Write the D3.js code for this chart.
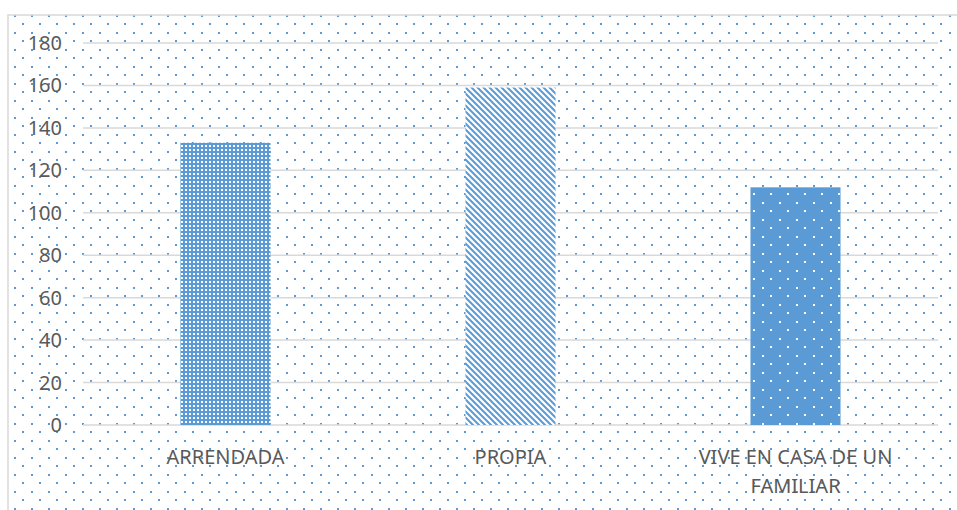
<!DOCTYPE html>
<html>
<head>
<meta charset="utf-8">
<script src="https://cdn.jsdelivr.net/npm/d3@7"></script>
<style>
  body { margin: 0; background: #fff; }
  text { font-family: "Noto Sans", "Open Sans", sans-serif; fill: #595959; }
</style>
</head>
<body>
<div id="chart"></div>
<script>
const WIDTH = 957;
const HEIGHT = 510;
const PLOT = { TOP: 43, RIGHT: 938, BOTTOM: 425, LEFT: 83 };
const BLUE = "#5b9bd5";

// data
var categories = ["ARRENDADA", "PROPIA", "VIVE EN CASA DE UN FAMILIAR"];
var values = [133, 159, 112];
var yTicks = [0, 20, 40, 60, 80, 100, 120, 140, 160, 180];
var fills = ["url(#grid)", "url(#diag)", "url(#dots-inv)"];

var svg = d3.select("div#chart").append("svg")
    .attr("width", WIDTH)
    .attr("height", HEIGHT);

var defs = svg.append("defs");

// background dotted pattern (34px tile so every dot sits on whole pixels)
var dotSpots = [[0, 0], [17, 0], [0, 17], [17, 17], [8, 8], [25, 8], [8, 25], [25, 25]];

var bg = defs.append("pattern")
    .attr("id", "bgdots")
    .attr("patternUnits", "userSpaceOnUse")
    .attr("x", 14).attr("y", 15)
    .attr("width", 34).attr("height", 34);
bg.selectAll("rect").data(dotSpots).join("rect")
    .attr("x", d => d[0]).attr("y", d => d[1])
    .attr("width", 2).attr("height", 2)
    .attr("fill", BLUE);

// arrendada: small white squares on blue
var grid = defs.append("pattern")
    .attr("id", "grid")
    .attr("patternUnits", "userSpaceOnUse")
    .attr("width", 4).attr("height", 4);
grid.append("rect").attr("width", 4).attr("height", 4).attr("fill", BLUE);
grid.append("rect").attr("x", 1).attr("y", 1).attr("width", 2).attr("height", 2).attr("fill", "#fff");

// propia: downward diagonal lines
var diag = defs.append("pattern")
    .attr("id", "diag")
    .attr("patternUnits", "userSpaceOnUse")
    .attr("width", 6).attr("height", 6);
diag.append("rect").attr("width", 6).attr("height", 6).attr("fill", "#fff");
diag.append("path")
    .attr("d", "M-1,-1 L7,7 M-4,2 L4,10 M2,-4 L10,4")
    .attr("stroke", BLUE)
    .attr("stroke-width", 2);

// vive en casa: white dots on blue
var inv = defs.append("pattern")
    .attr("id", "dots-inv")
    .attr("patternUnits", "userSpaceOnUse")
    .attr("x", 14).attr("y", 15)
    .attr("width", 34).attr("height", 34);
inv.append("rect").attr("width", 34).attr("height", 34).attr("fill", BLUE);
inv.selectAll("rect.d").data(dotSpots).join("rect")
    .attr("class", "d")
    .attr("x", d => d[0]).attr("y", d => d[1])
    .attr("width", 2).attr("height", 2)
    .attr("fill", "#fff");

// chart area
svg.append("rect")
    .attr("x", 0).attr("y", 0)
    .attr("width", WIDTH).attr("height", HEIGHT)
    .attr("fill", "#fff");
svg.append("rect")
    .attr("x", 8).attr("y", 15)
    .attr("width", WIDTH).attr("height", HEIGHT)
    .attr("fill", "url(#bgdots)")
    .attr("stroke", "#d9d9d9")
    .attr("stroke-width", 1.5);

var x = d3.scaleBand(categories, [PLOT.LEFT, PLOT.RIGHT])
    .paddingInner(0.684)
    .paddingOuter(0.342);
var y = d3.scaleLinear([0, 180], [PLOT.BOTTOM, PLOT.TOP]);

// gridlines
svg.append("g")
    .selectAll("line")
    .data(yTicks)
    .join("line")
    .attr("x1", PLOT.LEFT).attr("x2", PLOT.RIGHT)
    .attr("y1", d => y(d)).attr("y2", d => y(d))
    .attr("stroke", "#d9d9d9")
    .attr("stroke-width", 1.5);

// y labels
svg.append("g")
    .selectAll("text")
    .data(yTicks)
    .join("text")
    .attr("x", 62)
    .attr("y", d => y(d))
    .attr("dy", "0.35em")
    .attr("text-anchor", "end")
    .style("font-size", "20px")
    .text(d => d);

// bars
svg.append("g")
    .selectAll("rect")
    .data(values)
    .join("rect")
    .attr("x", (d, i) => x(categories[i]))
    .attr("y", d => y(d))
    .attr("width", x.bandwidth())
    .attr("height", d => y(0) - y(d))
    .attr("fill", (d, i) => fills[i]);

// x labels, wrapped to the band step
function wrap(text, width) {
    text.each(function() {
        var t = d3.select(this),
            words = t.text().split(/\s+/),
            line = [],
            cx = t.attr("x"),
            tspan = t.text(null).append("tspan").attr("x", cx).attr("dy", 0);
        words.forEach(w => {
            line.push(w);
            tspan.text(line.join(" "));
            if (tspan.node().getComputedTextLength() > width && line.length > 1) {
                line.pop();
                tspan.text(line.join(" "));
                line = [w];
                tspan = t.append("tspan").attr("x", cx).attr("dy", 29).text(w);
            }
        });
    });
}

svg.append("g")
    .selectAll("text")
    .data(categories)
    .join("text")
    .attr("x", d => x(d) + x.bandwidth() / 2)
    .attr("y", 464)
    .attr("text-anchor", "middle")
    .style("font-size", "20px")
    .text(d => d)
    .call(wrap, x.step() - 20);
</script>
</body>
</html>
